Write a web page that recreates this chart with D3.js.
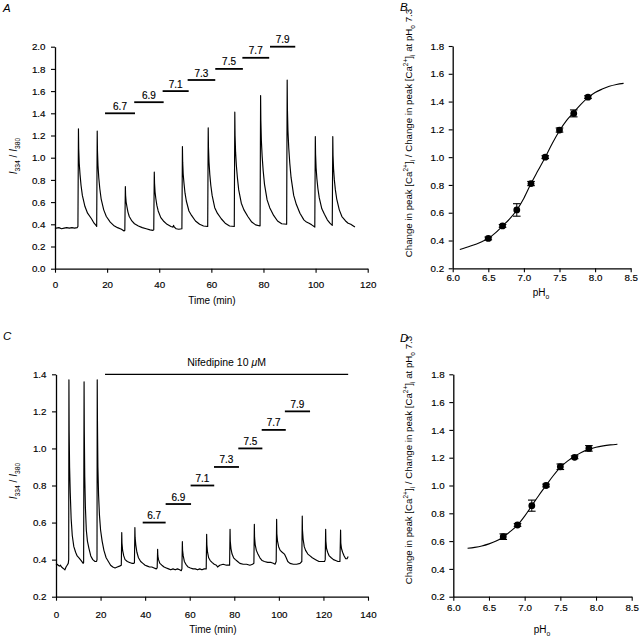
<!DOCTYPE html>
<html><head><meta charset="utf-8">
<script src="https://cdn.jsdelivr.net/npm/d3@7"></script>
<style>
body{margin:0;background:#fff}
svg{display:block}
text{font-family:Arial,"Liberation Sans",Helvetica,sans-serif;fill:#000}
</style>
</head><body>
<svg id="chart" width="641" height="638"></svg>
<script>
// ---------------- DATA ----------------
// Panel A: fura-2 ratio trace (time in min, ratio I334/I380)
const traceA = [
 [0,0.37],[0.5,0.365],[1.5,0.37],[2.5,0.36],[3.5,0.365],[4.5,0.37],[5.5,0.365],[6.5,0.37],[7.5,0.365],[8.5,0.37],[8.8,0.38],
 [9.0,1.26],[9.1,1.08],[9.3,0.95],[9.6,0.85],[10.0,0.75],[10.5,0.66],[11.5,0.56],[12.5,0.50],[14.0,0.45],[15.0,0.41],[15.9,0.385],[16.0,0.38],
 [16.2,1.24],[16.3,1.06],[16.5,0.93],[16.8,0.82],[17.2,0.72],[17.7,0.63],[18.7,0.53],[19.7,0.47],[21.2,0.42],[22.5,0.39],[24,0.37],[25.5,0.355],[26.5,0.34],[26.8,0.345],
 [27.0,0.74],[27.1,0.66],[27.3,0.60],[27.6,0.56],[28.0,0.51],[28.5,0.47],[29.5,0.43],[30.5,0.405],[32,0.385],[33.5,0.37],[35,0.36],[36.5,0.35],[37.6,0.345],[37.9,0.35],
 [38.1,0.87],[38.2,0.77],[38.4,0.69],[38.7,0.63],[39.1,0.57],[39.6,0.52],[40.6,0.46],[41.6,0.43],[43,0.40],[44.5,0.38],[45.3,0.375],[45.5,0.39],[45.8,0.375],[46.5,0.36],[47.5,0.355],[48.7,0.36],
 [48.9,1.10],[49.0,0.96],[49.2,0.85],[49.5,0.77],[49.9,0.68],[50.4,0.61],[51.4,0.52],[52.4,0.48],[53.9,0.43],[55.5,0.40],[57,0.385],[58.6,0.38],
 [58.8,1.27],[58.9,1.09],[59.1,0.96],[59.4,0.85],[59.8,0.75],[60.3,0.66],[61.3,0.55],[62.3,0.50],[63.8,0.45],[65.3,0.41],[67,0.385],[68.8,0.38],
 [69.0,1.41],[69.1,1.20],[69.3,1.05],[69.6,0.93],[70.0,0.82],[70.5,0.71],[71.5,0.59],[72.5,0.53],[74,0.47],[75.5,0.42],[77,0.395],[78.7,0.385],
 [78.9,1.56],[79.0,1.33],[79.2,1.15],[79.5,1.01],[79.9,0.88],[80.4,0.76],[81.4,0.62],[82.4,0.55],[83.9,0.48],[85.4,0.43],[87,0.405],[88.9,0.40],
 [89.1,1.70],[89.2,1.43],[89.4,1.24],[89.7,1.09],[90.1,0.95],[90.6,0.82],[91.6,0.66],[92.6,0.58],[94,0.50],[95.5,0.44],[96.5,0.42],[97.5,0.41],[98.5,0.395],[99.7,0.375],
 [99.9,1.19],[100.0,1.03],[100.2,0.91],[100.5,0.81],[100.9,0.72],[101.4,0.64],[102.4,0.54],[103.4,0.49],[104.5,0.44],[105.5,0.41],[106.4,0.39],
 [106.6,1.19],[106.7,1.02],[106.9,0.90],[107.2,0.80],[107.6,0.71],[108.1,0.63],[109.1,0.53],[110.1,0.47],[111.5,0.43],[112.5,0.41],[113.5,0.40],[114.5,0.385],[115.1,0.375]
];
// Panel C: trace with nifedipine
const traceC = [
 [0,0.37],[0.5,0.375],[1,0.37],[1.5,0.365],[2,0.37],[2.5,0.36],[3,0.355],[3.5,0.35],[4,0.345],[4.5,0.36],[5,0.37],[5.5,0.38],[5.7,0.40],
 [5.8,1.37],[5.9,1.10],[6.1,0.90],[6.4,0.76],[6.8,0.62],[7.3,0.53],[8,0.47],[8.8,0.44],[9.5,0.42],[10.3,0.41],[11.3,0.395],[12.2,0.38],[12.4,0.385],
 [12.6,1.36],[12.7,1.10],[12.9,0.85],[13.2,0.68],[13.6,0.56],[14.1,0.50],[14.8,0.46],[15.6,0.42],[16.5,0.40],[17.5,0.39],[18.2,0.39],[18.4,0.40],
 [18.5,1.37],[18.6,1.15],[18.8,0.90],[19.1,0.75],[19.5,0.64],[20.0,0.56],[20.7,0.50],[21.5,0.45],[22.5,0.41],[23.5,0.39],[24.5,0.37],[25.5,0.36],[26.5,0.355],[27.5,0.36],[28.5,0.365],[29.3,0.37],
 [29.5,0.546],[29.6,0.49],[29.9,0.45],[30.4,0.42],[31,0.40],[32,0.39],[33,0.385],[34,0.38],[35,0.38],[35.2,0.385],
 [35.4,0.573],[35.5,0.52],[35.8,0.48],[36.3,0.44],[37,0.41],[38,0.39],[39,0.38],[40,0.37],[41,0.365],[42,0.36],[43,0.36],[44,0.355],[45,0.35],[45.4,0.355],
 [45.6,0.456],[45.7,0.42],[46,0.40],[46.6,0.38],[47.5,0.37],[48.5,0.36],[49.5,0.355],[50.5,0.35],[51.5,0.345],[52.5,0.35],[53.5,0.345],[54.5,0.35],[55.5,0.345],[56.2,0.34],[56.5,0.35],
 [56.7,0.497],[56.8,0.45],[57.1,0.42],[57.6,0.39],[58.3,0.375],[59.3,0.36],[60.3,0.355],[61.5,0.35],[62.5,0.35],[63.5,0.345],[64.5,0.35],[65.5,0.345],[66.5,0.35],[67.4,0.35],
 [67.6,0.537],[67.7,0.48],[68,0.44],[68.5,0.41],[69.2,0.395],[70,0.385],[71,0.375],[72,0.37],[72.5,0.36],[73.5,0.37],[75,0.375],[76.5,0.37],[77.9,0.37],
 [78.1,0.564],[78.2,0.50],[78.5,0.46],[79,0.43],[79.7,0.41],[80.5,0.40],[81.5,0.39],[82.5,0.38],[84,0.375],[85.5,0.375],[87,0.37],[88.2,0.375],[88.8,0.38],
 [89.0,0.591],[89.1,0.52],[89.4,0.48],[89.9,0.45],[90.6,0.43],[91.5,0.41],[92.5,0.395],[93.5,0.39],[95,0.385],[96.5,0.385],[97.5,0.38],[98.3,0.375],[98.8,0.39],
 [99.0,0.618],[99.1,0.54],[99.4,0.50],[99.9,0.47],[100.6,0.45],[101.5,0.44],[102.5,0.43],[103.3,0.41],[104,0.39],[105,0.38],[106.5,0.375],[108,0.375],[109.5,0.38],[110.3,0.39],
 [110.5,0.635],[110.6,0.56],[110.9,0.51],[111.4,0.47],[112,0.45],[113,0.43],[114,0.42],[115,0.41],[116.5,0.40],[118,0.39],[119.5,0.39],[120.5,0.39],[120.8,0.40],
 [121.0,0.564],[121.1,0.50],[121.4,0.46],[121.9,0.44],[122.6,0.42],[123.5,0.41],[124.5,0.40],[125.5,0.395],[126.5,0.39],[127.4,0.39],
 [127.7,0.56],[127.8,0.49],[128.1,0.46],[128.6,0.44],[129.3,0.42],[130,0.405],[130.6,0.405],[131.1,0.417]
];
// pH application bars
const phLabels   = ["6.7","6.9","7.1","7.3","7.5","7.7","7.9"];
const barStartA  = [19.2,30.4,41.3,50.9,61.5,71.9,82.5];
const barEndA    = [30.7,41.7,51.3,61.5,72.1,82.2,92.2];
const barLevelA  = [1.4,1.5,1.6,1.7,1.8,1.9,2.0];
const barStartC  = [38.9,49.2,60.4,70.9,81.8,92.3,102.7];
const barEndC    = [49.2,60.6,71.0,82.1,92.6,103.1,114.0];
const barLevelC  = [0.6,0.7,0.8,0.9,1.0,1.1,1.2];
const nifedipine = {label:"Nifedipine 10 ", start:22.0, end:131.1, level:1.4};
// Panel B: normalized peak change vs pHo
const phB   = [6.5,6.7,6.9,7.1,7.3,7.5,7.7,7.9];
const meanB = [0.415,0.505,0.62,0.81,1.0,1.195,1.315,1.432];
const errB  = [0.01,0.01,0.045,0.015,0.01,0.015,0.025,0.01];
const fitPhB  = [6.1,6.25,6.4,6.5,6.6,6.7,6.8,6.9,7.0,7.1,7.2,7.3,7.4,7.5,7.6,7.7,7.8,7.9,8.0,8.1,8.2,8.3,8.4];
const fitValB = [0.335,0.36,0.39,0.415,0.455,0.505,0.555,0.62,0.705,0.81,0.905,1.0,1.10,1.19,1.265,1.322,1.38,1.428,1.465,1.49,1.51,1.523,1.531];
// Panel D: with nifedipine
const phD   = [6.7,6.9,7.1,7.3,7.5,7.7,7.9];
const meanD = [0.632,0.716,0.855,1.0,1.135,1.203,1.267];
const errD  = [0.02,0.01,0.04,0.01,0.02,0.01,0.02];
const fitPhD  = [6.2,6.3,6.4,6.5,6.6,6.7,6.8,6.9,7.0,7.1,7.2,7.3,7.4,7.5,7.6,7.7,7.8,7.9,8.0,8.1,8.2,8.3];
const fitValD = [0.548,0.555,0.565,0.58,0.60,0.63,0.67,0.715,0.78,0.855,0.93,1.0,1.07,1.13,1.175,1.21,1.24,1.26,1.275,1.285,1.292,1.297];
// tick values
const timeTicksA  = [0,20,40,60,80,100,120];
const ratioTicksA = [0,0.2,0.4,0.6,0.8,1.0,1.2,1.4,1.6,1.8,2.0];
const timeTicksC  = [0,20,40,60,80,100,120,140];
const ratioTicksC = [0.2,0.4,0.6,0.8,1.0,1.2,1.4];
const phTicks     = [6.0,6.5,7.0,7.5,8.0,8.5];
const normTicks   = [0.2,0.4,0.6,0.8,1.0,1.2,1.4,1.6,1.8];

// ---------------- DRAW ----------------
const svg = d3.select("#chart");
svg.append("rect").attr("width",641).attr("height",638).attr("fill","#fff");
const FONT = 'Arial, "Liberation Sans", Helvetica, sans-serif';

function drawAxes(x, y, xTicks, yTicks, xFmt, xPad, yPad) {
  const [x0] = x.range(); const [y0] = y.range();
  const gx = svg.append("g").attr("transform",`translate(0,${y0})`)
    .call(d3.axisBottom(x).tickValues(xTicks).tickFormat(xFmt).tickSize(4).tickPadding(xPad).tickSizeOuter(0));
  const gy = svg.append("g").attr("transform",`translate(${x0},0)`)
    .call(d3.axisLeft(y).tickValues(yTicks).tickFormat(d3.format(".1f")).tickSize(4).tickPadding(yPad).tickSizeOuter(0));
  [gx,gy].forEach(g=>{
    g.attr("font-family",FONT).attr("font-size",9.8);
    g.select(".domain").attr("stroke","#000").attr("stroke-width",1.3);
    g.selectAll(".tick line").attr("stroke","#000").attr("stroke-width",1.1);
    g.selectAll(".tick text").attr("fill","#000").attr("stroke","#000").attr("stroke-width",0.15);
  });
}

function richText(x, y, rotate, parts, size, anchor) {
  const t = svg.append("text")
    .attr("transform",`translate(${x},${y})` + (rotate ? " rotate(-90)" : ""))
    .attr("text-anchor",anchor||"middle").attr("font-size",size);
  let shift = 0;
  parts.forEach(p=>{
    let target = 0;
    if (p.sub) target = size*0.3;
    if (p.sup) target = -size*0.38;
    const ts = t.append("tspan").text(p.t).attr("dy", target - shift);
    shift = target;
    if (p.sub || p.sup) ts.attr("font-size", size*0.68);
    if (p.it) ts.attr("font-style","italic");
  });
  return t;
}

function panelLetter(x,y,l){
  svg.append("text").attr("x",x).attr("y",y).attr("font-size",11.5).attr("font-style","italic").text(l);
}

// ---- Panel A ----
const xA = d3.scaleLinear().domain([0,120]).range([55,367.7]);
const yA = d3.scaleLinear().domain([0,2]).range([268.7,46.7]);
drawAxes(xA, yA, timeTicksA, ratioTicksA, d3.format("d"), 8.5, 5.5);
svg.append("path").datum(traceA).attr("fill","none").attr("stroke","#000").attr("stroke-width",1.15)
  .attr("stroke-linejoin","round")
  .attr("d", d3.line().x(d=>xA(d[0])).y(d=>yA(d[1])));
phLabels.forEach((lab,i)=>{
  svg.append("line").attr("x1",xA(barStartA[i])).attr("x2",xA(barEndA[i]))
    .attr("y1",yA(barLevelA[i])).attr("y2",yA(barLevelA[i])).attr("stroke","#000").attr("stroke-width",1.8);
  svg.append("text").attr("x",(xA(barStartA[i])+xA(barEndA[i]))/2).attr("y",yA(barLevelA[i])-3.5)
    .attr("text-anchor","middle").attr("font-size",10).attr("stroke","#000").attr("stroke-width",0.15).text(lab);
});
richText(17,156,true,[{t:"I",it:true},{t:"334",sub:true},{t:" / "},{t:"I",it:true},{t:"380",sub:true}],10);
svg.append("text").attr("x",212).attr("y",304).attr("text-anchor","middle").attr("font-size",10).text("Time (min)");
panelLetter(3,11.5,"A");

// ---- Panel B ----
const xB = d3.scaleLinear().domain([6,8.5]).range([452.7,630.7]);
const yB = d3.scaleLinear().domain([0.2,1.8]).range([268.3,46]);
drawAxes(xB, yB, phTicks, normTicks, d3.format(".1f"), 1.5, 4.5);

const yLabelParts = [{t:"Change in peak [Ca"},{t:"2+",sup:true},{t:"]"},{t:"i",sub:true},
  {t:" / Change in peak [Ca"},{t:"2+",sup:true},{t:"]"},{t:"i",sub:true},{t:" at pH"},{t:"o",sub:true},{t:" 7.3"}];

function drawDose(x, y, ph, mean, err, fph, fval) {
  const fit = fph.map((p,i)=>[p,fval[i]]);
  svg.append("path").datum(fit).attr("fill","none").attr("stroke","#000").attr("stroke-width",1.1)
    .attr("d", d3.line().curve(d3.curveMonotoneX).x(d=>x(d[0])).y(d=>y(d[1])));
  ph.forEach((p,i)=>{
    const cx = x(p), lo = y(mean[i]-err[i]), hi = y(mean[i]+err[i]);
    svg.append("line").attr("x1",cx).attr("x2",cx).attr("y1",lo).attr("y2",hi).attr("stroke","#000").attr("stroke-width",1);
    [lo,hi].forEach(yy=>svg.append("line").attr("x1",cx-3.8).attr("x2",cx+3.8).attr("y1",yy).attr("y2",yy).attr("stroke","#000").attr("stroke-width",1.1));
    svg.append("circle").attr("cx",cx).attr("cy",y(mean[i])).attr("r",3.4).attr("fill","#000");
  });
}
drawDose(xB,yB,phB,meanB,errB,fitPhB,fitValB);
richText(412,133,true,yLabelParts,9.7);
richText(541,296,false,[{t:"pH"},{t:"o",sub:true}],10);
panelLetter(400,10.5,"B");

// ---- Panel C ----
const xC = d3.scaleLinear().domain([0,140]).range([56,368]);
const yC = d3.scaleLinear().domain([0.2,1.4]).range([596.7,374.3]);
drawAxes(xC, yC, timeTicksC, ratioTicksC, d3.format("d"), 10, 5.5);
svg.append("path").datum(traceC).attr("fill","none").attr("stroke","#000").attr("stroke-width",1.15)
  .attr("stroke-linejoin","round")
  .attr("d", d3.line().x(d=>xC(d[0])).y(d=>yC(d[1])));
phLabels.forEach((lab,i)=>{
  svg.append("line").attr("x1",xC(barStartC[i])).attr("x2",xC(barEndC[i]))
    .attr("y1",yC(barLevelC[i])).attr("y2",yC(barLevelC[i])).attr("stroke","#000").attr("stroke-width",1.8);
  svg.append("text").attr("x",(xC(barStartC[i])+xC(barEndC[i]))/2).attr("y",yC(barLevelC[i])-3.5)
    .attr("text-anchor","middle").attr("font-size",10).attr("stroke","#000").attr("stroke-width",0.15).text(lab);
});
svg.append("line").attr("x1",xC(nifedipine.start)).attr("x2",xC(nifedipine.end))
  .attr("y1",yC(nifedipine.level)).attr("y2",yC(nifedipine.level)).attr("stroke","#000").attr("stroke-width",1.3);
const nt = svg.append("text").attr("x",(xC(nifedipine.start)+xC(nifedipine.end))/2).attr("y",yC(nifedipine.level)-8)
  .attr("text-anchor","middle").attr("font-size",10.5);
nt.append("tspan").text(nifedipine.label);
nt.append("tspan").attr("font-style","italic").text("\u03bc");
nt.append("tspan").text("M");
richText(17,481,true,[{t:"I",it:true},{t:"334",sub:true},{t:" / "},{t:"I",it:true},{t:"380",sub:true}],10);
svg.append("text").attr("x",213).attr("y",633).attr("text-anchor","middle").attr("font-size",10).text("Time (min)");
panelLetter(3,340,"C");

// ---- Panel D ----
const xD = d3.scaleLinear().domain([6,8.5]).range([453.3,631.7]);
const yD = d3.scaleLinear().domain([0.2,1.8]).range([596.7,374.3]);
drawAxes(xD, yD, phTicks, normTicks, d3.format(".1f"), 3, 4.5);
drawDose(xD,yD,phD,meanD,errD,fitPhD,fitValD);
richText(412,460,true,yLabelParts,9.7);
richText(542,633,false,[{t:"pH"},{t:"o",sub:true}],10);
panelLetter(400,341.5,"D");
</script>
</body></html>
